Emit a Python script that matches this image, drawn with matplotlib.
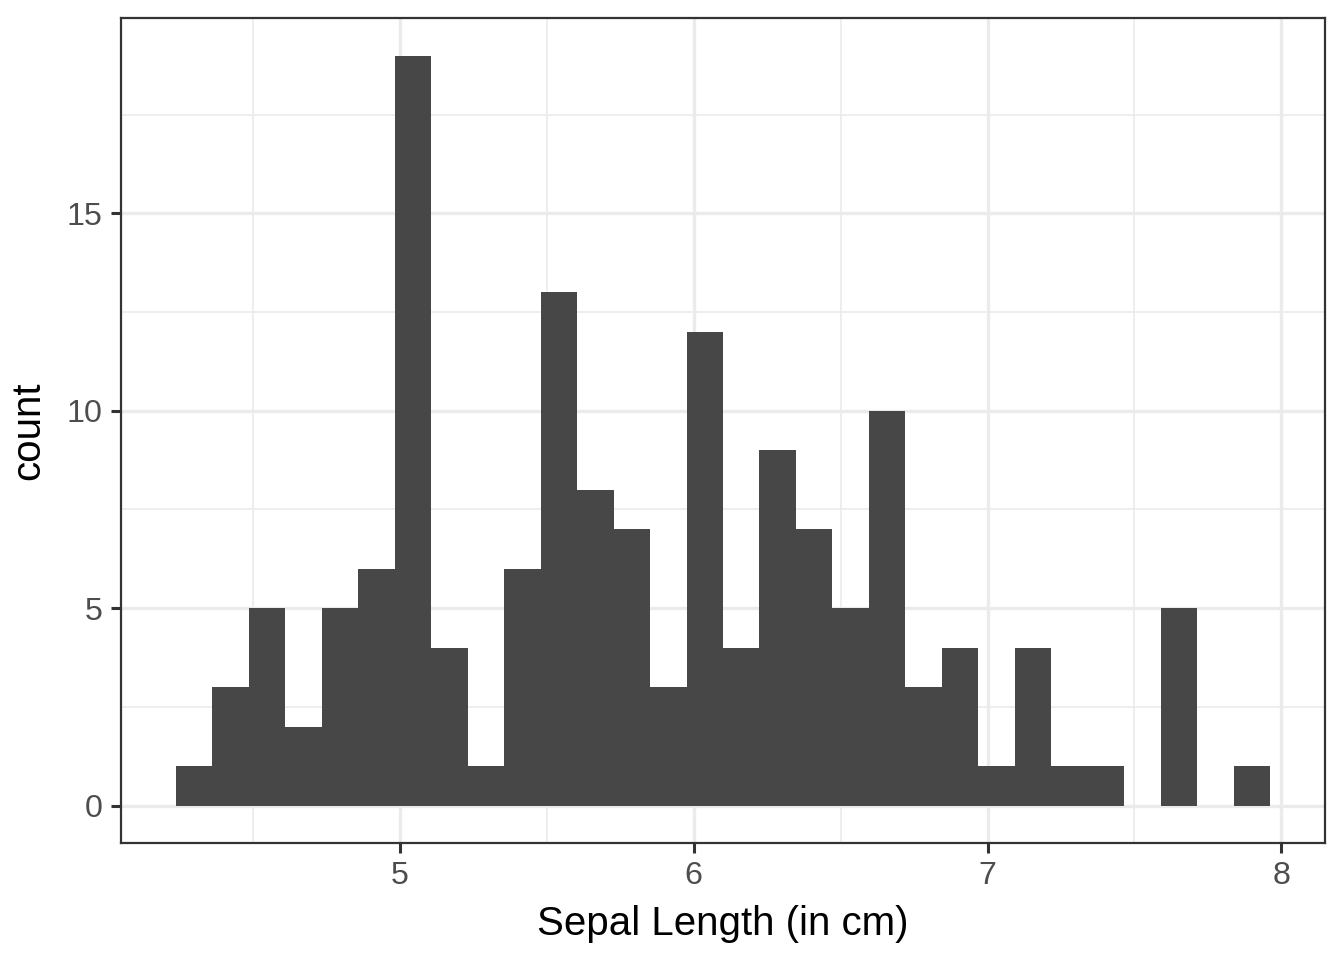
import numpy as np
import matplotlib
matplotlib.use("Agg")
import matplotlib.pyplot as plt
from matplotlib.ticker import FixedLocator

# Data: iris Sepal Length histogram, 30 bins (ggplot default)
data_min = 4.3
data_max = 7.9
n_bins = 30
counts = [1, 3, 5, 2, 5, 6, 19, 4, 1, 6,
          13, 8, 7, 3, 12, 4, 9, 7, 5, 10,
          3, 4, 1, 4, 1, 1, 0, 5, 0, 1]
x_ticks = [5, 6, 7, 8]
y_ticks = [0, 5, 10, 15]
x_label = "Sepal Length (in cm)"
y_label = "count"

binwidth = (data_max - data_min) / (n_bins - 1)
lefts = data_min - binwidth / 2 + np.arange(n_bins) * binwidth

plt.rcParams['font.family'] = ['Liberation Sans', 'DejaVu Sans']
fig = plt.figure(figsize=(6.72, 4.8), dpi=200)
ax = fig.add_axes([121/1344, 1 - 843/960, (1325-121)/1344, (843-18)/960])

ax.bar(lefts, counts, width=binwidth, align='edge', color='#474747', linewidth=0, zorder=3)

xmin, xmax = lefts[0], lefts[-1] + binwidth
xr = xmax - xmin
ax.set_xlim(xmin - 0.05 * xr, xmax + 0.05 * xr)
ymax = max(counts)
ax.set_ylim(-0.05 * ymax, ymax * 1.05)

ax.xaxis.set_major_locator(FixedLocator(x_ticks))
ax.yaxis.set_major_locator(FixedLocator(y_ticks))
ax.xaxis.set_minor_locator(FixedLocator([4.5, 5.5, 6.5, 7.5]))
ax.yaxis.set_minor_locator(FixedLocator([2.5, 7.5, 12.5, 17.5]))

ax.grid(which='major', color='#EBEBEB', linewidth=1.2, zorder=0)
ax.grid(which='minor', color='#EBEBEB', linewidth=0.6, zorder=0)
ax.set_axisbelow(True)

for s in ax.spines.values():
    s.set_color('#333333')
    s.set_linewidth(0.8)

ax.tick_params(which='major', length=3.6, width=1.1, color='#333333',
               labelsize=11.6, labelcolor='#4D4D4D', pad=3.0)
ax.tick_params(which='minor', length=0)

ax.set_xlabel(x_label, fontsize=14.5, color='black', labelpad=5)
ax.set_ylabel(y_label, fontsize=14.5, color='black', labelpad=7)

fig.savefig("out.png", dpi=200, facecolor='white')
